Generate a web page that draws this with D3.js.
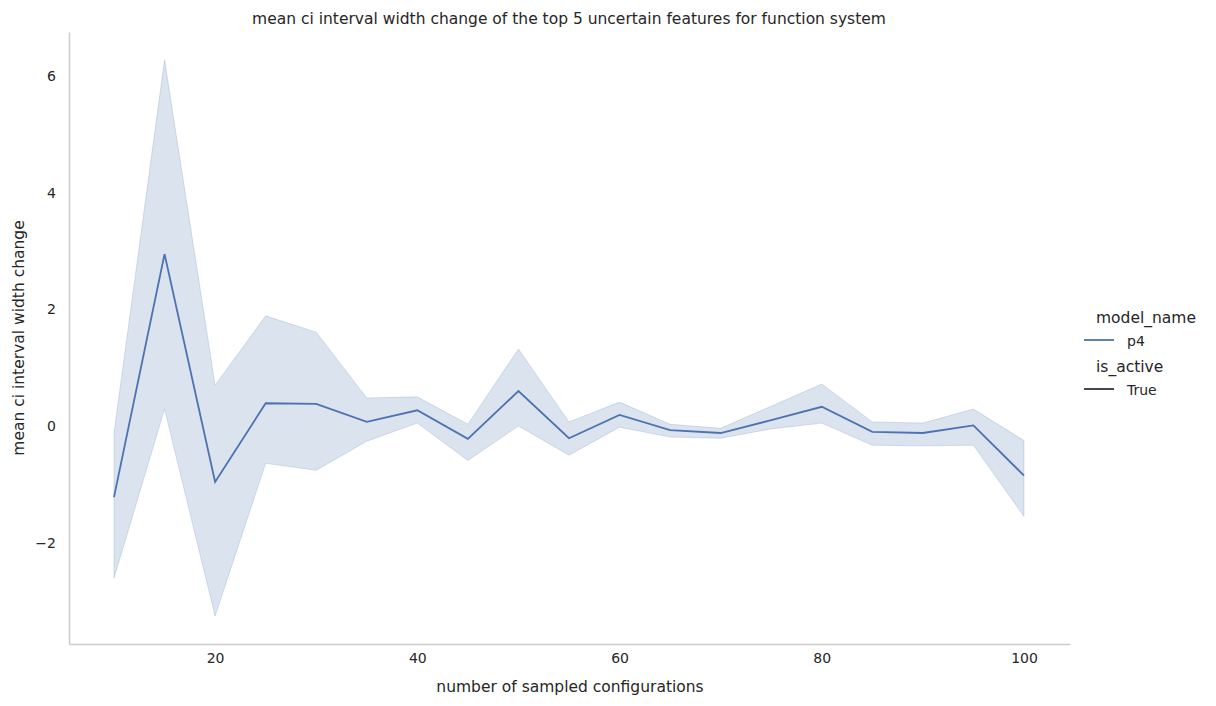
<!DOCTYPE html>
<html><head><meta charset="utf-8">
<script src="https://cdn.jsdelivr.net/npm/d3@7"></script>
<style>body{margin:0;background:#fff;font-family:"DejaVu Sans",sans-serif}</style>
</head><body><div id="chart"></div>
<script>
const xs = [10,15,20,25,30,35,40,45,50,55,60,65,70,75,80,85,90,95,100]
const means = [-1.22,2.95,-0.96,0.39,0.38,0.07,0.27,-0.22,0.60,-0.21,0.19,-0.07,-0.12,0.10,0.33,-0.10,-0.12,0.01,-0.85]
const upper = [-0.12,6.28,0.70,1.89,1.61,0.48,0.50,0.03,1.32,0.07,0.41,0.03,-0.04,0.34,0.72,0.07,0.05,0.29,-0.25]
const lower = [-2.61,0.29,-3.26,-0.64,-0.76,-0.26,0.05,-0.59,0.00,-0.50,-0.02,-0.19,-0.21,-0.05,0.05,-0.33,-0.34,-0.33,-1.55]
const xTicks = [20,40,60,80,100]
const yTicks = [-2,0,2,4,6]

const width = 1216, height = 706
const mLeft = 69, mRight = 1070, mTop = 32, mBottom = 644
const color = '#4c72b0'

const svg = d3.select('#chart').append('svg').attr('width', width).attr('height', height)

const x = d3.scaleLinear().domain([5.55, 104.55]).range([mLeft, mRight])
const y = d3.scaleLinear().domain([-3.74, 6.76]).range([mBottom, mTop])

const data = xs.map((v, i) => ({x: v, m: means[i], lo: lower[i], hi: upper[i]}))

svg.append('path').datum(data)
  .attr('d', d3.area().x(d => x(d.x)).y0(d => y(d.lo)).y1(d => y(d.hi)))
  .attr('fill', color).attr('fill-opacity', 0.2)
  .attr('stroke', color).attr('stroke-opacity', 0.2)

svg.append('path').datum(data)
  .attr('d', d3.line().x(d => x(d.x)).y(d => y(d.m)))
  .attr('fill', 'none').attr('stroke', color).attr('stroke-width', 1.8)

const xAxis = svg.append('g').attr('transform', `translate(0,${mBottom})`)
  .call(d3.axisBottom(x).tickValues(xTicks).tickSize(0).tickPadding(9))
const yAxis = svg.append('g').attr('transform', `translate(${mLeft},0)`)
  .call(d3.axisLeft(y).tickValues(yTicks).tickSize(0).tickPadding(13).tickFormat(d => d < 0 ? '\u2212' + Math.abs(d) : d))
;[xAxis, yAxis].forEach(a => {
  a.select('.domain').attr('stroke', '#cccccc').attr('stroke-width', 1.5)
  a.selectAll('text').attr('font-size', 14).attr('fill', '#262626').attr('font-family', '"DejaVu Sans",sans-serif')
})

const txt = (t, px, py, opts = {}) => svg.append('text').text(t)
  .attr('x', px).attr('y', py).attr('font-size', opts.size || 15).attr('fill', '#262626')
  .attr('text-anchor', opts.anchor || 'middle').attr('transform', opts.rot ? `rotate(-90,${px},${py})` : null)

txt('mean ci interval width change of the top 5 uncertain features for function system', 569, 24, {size: 15.5})
txt('number of sampled configurations', 570, 692, {size: 15.5})
txt('mean ci interval width change', 24, 338, {size: 15.5, rot: true})

// legend
txt('model_name', 1096, 323, {anchor: 'start', size: 15.5})
svg.append('line').attr('x1', 1084).attr('x2', 1114).attr('y1', 340).attr('y2', 340).attr('stroke', color).attr('stroke-width', 1.8)
txt('p4', 1127, 346, {anchor: 'start', size: 14})
txt('is_active', 1096, 372, {anchor: 'start', size: 15.5})
svg.append('line').attr('x1', 1084).attr('x2', 1114).attr('y1', 389).attr('y2', 389).attr('stroke', '#333').attr('stroke-width', 1.8)
txt('True', 1127, 395, {anchor: 'start', size: 14})
</script></body></html>
